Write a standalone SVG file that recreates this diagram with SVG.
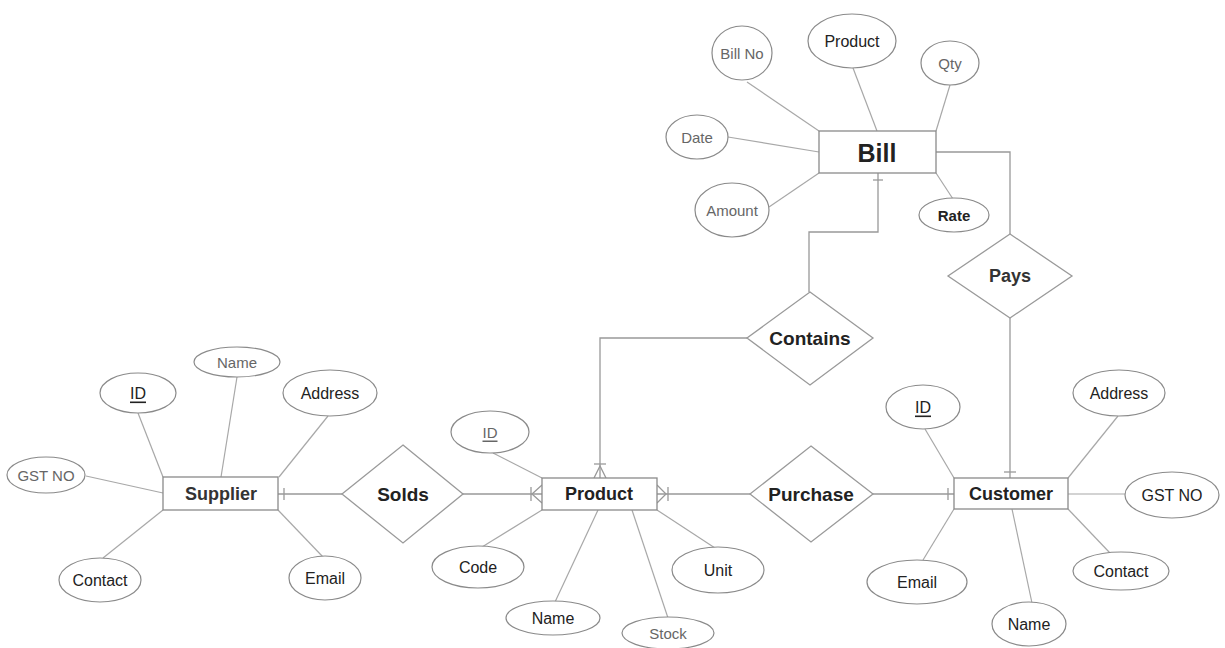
<svg xmlns="http://www.w3.org/2000/svg" width="1225" height="648" viewBox="0 0 1225 648">
<style>
.bg{fill:#fff}
.ent{fill:#fff;stroke:#8a8a8a;stroke-width:1.3}
.rel{fill:#fff;stroke:#9a9a9a;stroke-width:1.3}
.att{fill:#fff;stroke:#8a8a8a;stroke-width:1.2}
.ln{stroke:#a8a8a8;stroke-width:1.2;fill:none}
.cn{stroke:#999;stroke-width:1.3;fill:none}
text{font-family:"Liberation Sans Narrow","Liberation Sans",Arial,sans-serif;text-anchor:middle;dominant-baseline:central}
.et{font-size:18px;font-weight:bold;fill:#222}
.rt{font-size:19px;font-weight:bold;fill:#222}
.at{font-size:16px;fill:#222}
.ag{font-size:15px;fill:#666}
</style>
<rect class="bg" x="0" y="0" width="1225" height="648"/>

<g id="connectors">
  <!-- Bill attributes -->
  <line class="ln" x1="747" y1="82" x2="819" y2="131"/>
  <line class="ln" x1="853" y1="68" x2="877" y2="131"/>
  <line class="ln" x1="950" y1="85" x2="936" y2="131"/>
  <line class="ln" x1="728" y1="137" x2="819" y2="152"/>
  <line class="ln" x1="769" y1="207" x2="819" y2="173"/>
  <line class="ln" x1="936" y1="173" x2="953" y2="199"/>
  <!-- Bill - Contains -->
  <polyline class="cn" points="878,173 878,232 809,232 809,292"/>
  <line class="cn" x1="873" y1="180" x2="883" y2="180"/>
  <!-- Contains - Product -->
  <polyline class="cn" points="747,338 600,338 600,478"/>
  <line class="cn" x1="594" y1="464" x2="606" y2="464"/>
  <polyline class="cn" points="594,478 600,466 606,478"/>
  <!-- Bill - Pays -->
  <polyline class="cn" points="936,152 1010,152 1010,234"/>
  <!-- Pays - Customer -->
  <line class="cn" x1="1010" y1="318" x2="1010" y2="478"/>
  <line class="cn" x1="1004" y1="472" x2="1016" y2="472"/>
  <!-- Supplier - Solds -->
  <line class="cn" x1="278" y1="494" x2="342" y2="494"/>
  <line class="cn" x1="284" y1="488" x2="284" y2="500"/>
  <!-- Solds - Product -->
  <line class="cn" x1="463" y1="494" x2="542" y2="494"/>
  <line class="cn" x1="531" y1="487" x2="531" y2="501"/>
  <polyline class="cn" points="542,485 532,494 542,503"/>
  <!-- Purchase - Product -->
  <line class="cn" x1="750" y1="494" x2="657" y2="494"/>
  <line class="cn" x1="668" y1="487" x2="668" y2="501"/>
  <polyline class="cn" points="657,485 666,494 657,503"/>
  <!-- Purchase - Customer -->
  <line class="cn" x1="873" y1="494" x2="954" y2="494"/>
  <line class="cn" x1="948" y1="488" x2="948" y2="500"/>
  <!-- Supplier attributes -->
  <line class="ln" x1="138" y1="413" x2="163" y2="477"/>
  <line class="ln" x1="237" y1="377" x2="221" y2="477"/>
  <line class="ln" x1="328" y1="416" x2="279" y2="477"/>
  <line class="ln" x1="86" y1="476" x2="163" y2="493"/>
  <line class="ln" x1="103" y1="558" x2="163" y2="510"/>
  <line class="ln" x1="278" y1="510" x2="323" y2="557"/>
  <!-- Product attributes -->
  <line class="ln" x1="493" y1="453" x2="542" y2="478"/>
  <line class="ln" x1="482" y1="547" x2="542" y2="510"/>
  <line class="ln" x1="598" y1="510" x2="555" y2="602"/>
  <line class="ln" x1="632" y1="510" x2="668" y2="618"/>
  <line class="ln" x1="657" y1="510" x2="715" y2="548"/>
  <!-- Customer attributes -->
  <line class="ln" x1="925" y1="429" x2="954" y2="478"/>
  <line class="ln" x1="1118" y1="416" x2="1068" y2="478"/>
  <line class="ln" x1="1068" y1="494" x2="1125" y2="494"/>
  <line class="ln" x1="1068" y1="509" x2="1110" y2="553"/>
  <line class="ln" x1="1012" y1="509" x2="1032" y2="603"/>
  <line class="ln" x1="954" y1="509" x2="923" y2="560"/>
</g>

<!-- Bill -->
<g id="bill">
  <rect class="ent" x="819" y="131" width="117" height="42"/>
  <text x="877" y="153" style="font-size:25px;font-weight:bold;fill:#222">Bill</text>
</g>
<g id="bill-billno"><ellipse class="att" cx="742" cy="53" rx="30" ry="27"/><text class="ag" x="742" y="53">Bill No</text></g>
<g id="bill-product"><ellipse class="att" cx="852" cy="41" rx="44" ry="27"/><text class="at" x="852" y="41">Product</text></g>
<g id="bill-qty"><ellipse class="att" cx="950" cy="63" rx="29" ry="22"/><text class="ag" x="950" y="63">Qty</text></g>
<g id="bill-date"><ellipse class="att" cx="697" cy="137" rx="31" ry="22"/><text class="ag" x="697" y="137">Date</text></g>
<g id="bill-amount"><ellipse class="att" cx="732" cy="210" rx="37" ry="27"/><text class="ag" x="732" y="210">Amount</text></g>
<g id="bill-rate"><ellipse class="att" cx="954" cy="215" rx="35" ry="17"/><text class="at" x="954" y="215" style="font-weight:bold;font-size:15px">Rate</text></g>

<!-- Relationships -->
<g id="contains">
  <polygon class="rel" points="810,292 873,338 810,385 747,338"/>
  <text class="rt" x="810" y="338">Contains</text>
</g>
<g id="pays">
  <polygon class="rel" points="1010,234 1072,276 1010,318 948,276"/>
  <text class="rt" x="1010" y="276" style="font-size:18px;fill:#333">Pays</text>
</g>
<g id="solds">
  <polygon class="rel" points="403,445 463,494 403,543 342,494"/>
  <text class="rt" x="403" y="494">Solds</text>
</g>
<g id="purchase">
  <polygon class="rel" points="811,446 873,494 811,542 750,494"/>
  <text class="rt" x="811" y="494">Purchase</text>
</g>

<!-- Supplier -->
<g id="supplier">
  <rect class="ent" x="163" y="477" width="115" height="33"/>
  <text class="et" x="221" y="494" style="fill:#333">Supplier</text>
</g>
<g id="supplier-id"><ellipse class="att" cx="138" cy="393" rx="38" ry="20"/><text class="at" x="138" y="393" text-decoration="underline">ID</text></g>
<g id="supplier-name"><ellipse class="att" cx="237" cy="362" rx="43" ry="15"/><text class="ag" x="237" y="362">Name</text></g>
<g id="supplier-address"><ellipse class="att" cx="330" cy="393" rx="47" ry="23"/><text class="at" x="330" y="393">Address</text></g>
<g id="supplier-gstno"><ellipse class="att" cx="46" cy="475" rx="39" ry="18"/><text class="ag" x="46" y="475">GST NO</text></g>
<g id="supplier-contact"><ellipse class="att" cx="100" cy="580" rx="41" ry="22"/><text class="at" x="100" y="580">Contact</text></g>
<g id="supplier-email"><ellipse class="att" cx="325" cy="578" rx="36" ry="22"/><text class="at" x="325" y="578">Email</text></g>

<!-- Product -->
<g id="product">
  <rect class="ent" x="542" y="478" width="115" height="32"/>
  <text class="et" x="599" y="494">Product</text>
</g>
<g id="product-id"><ellipse class="att" cx="490" cy="432" rx="39" ry="21"/><text class="ag" x="490" y="432" text-decoration="underline">ID</text></g>
<g id="product-code"><ellipse class="att" cx="478" cy="567" rx="46" ry="21"/><text class="at" x="478" y="567">Code</text></g>
<g id="product-name"><ellipse class="att" cx="553" cy="618" rx="47" ry="17"/><text class="at" x="553" y="618">Name</text></g>
<g id="product-stock"><ellipse class="att" cx="668" cy="633" rx="46" ry="16"/><text class="ag" x="668" y="633">Stock</text></g>
<g id="product-unit"><ellipse class="att" cx="718" cy="570" rx="46" ry="23"/><text class="at" x="718" y="570">Unit</text></g>

<!-- Customer -->
<g id="customer">
  <rect class="ent" x="954" y="478" width="114" height="31"/>
  <text class="et" x="1011" y="494">Customer</text>
</g>
<g id="customer-id"><ellipse class="att" cx="923" cy="407" rx="37" ry="22"/><text class="at" x="923" y="407" text-decoration="underline">ID</text></g>
<g id="customer-address"><ellipse class="att" cx="1119" cy="393" rx="46" ry="23"/><text class="at" x="1119" y="393">Address</text></g>
<g id="customer-gstno"><ellipse class="att" cx="1172" cy="495" rx="47" ry="23"/><text class="at" x="1172" y="495">GST NO</text></g>
<g id="customer-contact"><ellipse class="att" cx="1121" cy="571" rx="48" ry="19"/><text class="at" x="1121" y="571">Contact</text></g>
<g id="customer-name"><ellipse class="att" cx="1029" cy="624" rx="37" ry="22"/><text class="at" x="1029" y="624">Name</text></g>
<g id="customer-email"><ellipse class="att" cx="917" cy="582" rx="50" ry="22"/><text class="at" x="917" y="582">Email</text></g>
</svg>
